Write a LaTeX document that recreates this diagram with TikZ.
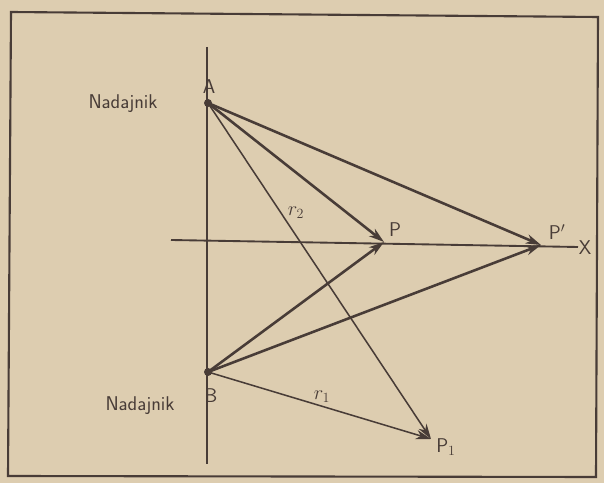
\documentclass[tikz,border=0pt]{standalone}
\usepackage{xcolor}
\usepackage{tikz}
\usetikzlibrary{arrows.meta,calc}

\definecolor{paper}{RGB}{221,205,176}
\definecolor{ink}{RGB}{72,60,55}

\begin{document}
\begin{tikzpicture}[x=0.03cm,y=-0.03cm,
    ray/.style={ink,line width=2.2pt,-{Stealth[length=13pt,width=8pt,inset=4pt]}},
    thinray/.style={ink,line width=1.3pt,-{Stealth[length=13pt,width=8pt,inset=4pt]}},
    axis/.style={ink,line width=1.6pt},
    lbl/.style={ink,font=\sffamily\fontsize{17}{20}\selectfont,inner sep=0pt}]
  % Two transmitters A and B, field points P, P' and P1.

  \fill[paper] (0,0) rectangle (604,483);
  \useasboundingbox (0,0) rectangle (604,483);

  \draw[ink,line width=1.8pt] (11,12) -- (598,17) -- (596,477) -- (8,476) -- cycle;

  \coordinate (A)  at (208,103);
  \coordinate (B)  at (208,372);
  \coordinate (P)  at (384,242);
  \coordinate (Pp) at (541,245);
  \coordinate (P1) at (431,439);

  \coordinate (Ytop) at (207,47);
  \coordinate (Ybot) at (207,464);
  \coordinate (Xl)   at (171,240);
  \coordinate (Xr)   at (578,247);

  \draw[axis] (Ytop) -- (Ybot);
  \draw[axis] (Xl) -- (Xr);

  \draw[ray]     (A) -- (Pp);
  \draw[ray]     (A) -- (P);
  \draw[thinray] (A) -- (P1);

  \draw[ray]     (B) -- (P);
  \draw[ray]     (B) -- (Pp);
  \draw[thinray] (B) -- (P1);

  \fill[ink] (A) circle (4);
  \fill[ink] (B) circle (4);

  \node[lbl] (lA)  at (209,87)  {A};
  \node[lbl] (lB)  at (211,396) {B};
  \node[lbl] (lP)  at (395,230) {P};
  \node[lbl] (lPp) at (557,232) {P$'$};
  \node[lbl] (lP1) at (446,447) {P$_1$};
  \node[lbl] (lX)  at (585,248) {X};

  \node[lbl] (nA) at (123,104) {Nadajnik};
  \node[lbl] (nB) at (140,406) {Nadajnik};

  \node[lbl] (r2) at (296,213) {$r_2$};
  \node[lbl] (r1) at (322,397) {$r_1$};
\end{tikzpicture}
\end{document}
